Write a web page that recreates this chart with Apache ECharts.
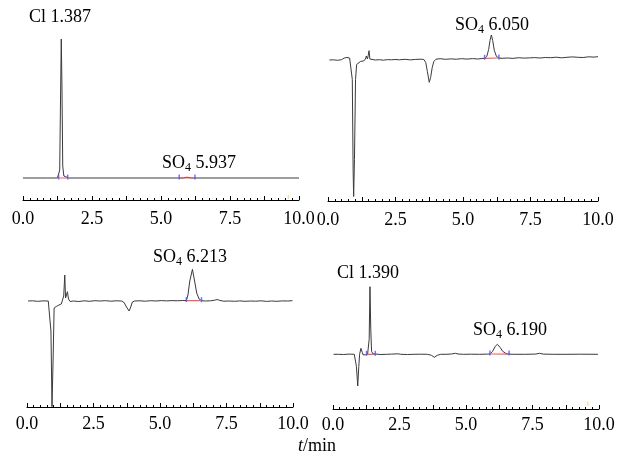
<!DOCTYPE html>
<html>
<head>
<meta charset="utf-8">
<script src="https://cdn.jsdelivr.net/npm/echarts@6/dist/echarts.min.js"></script>
<style>
html,body{margin:0;padding:0;background:#fff;}
#chart{width:623px;height:459px;}
</style>
</head>
<body>
<div id="chart"></div>
<script>
// ---- Data (time in min, signal in arbitrary units above baseline) ----
const xTickLabels = ['0.0', '2.5', '5.0', '7.5', '10.0'];

// Panel 1 (top-left)
const p1Time   = [0.00, 0.90, 1.25, 1.30, 1.33, 1.36, 1.387, 1.41, 1.44, 1.48, 1.55, 1.65, 5.80, 5.94, 6.10, 10.00];
const p1Signal = [0,    0,    0,    0.3,  8,    80,   139,   95,   12,   2,    0.5,  0,    0,    0.8,  0,    0];
const p1Bounds = [[1.29, 0, 1.62, 0], [5.66, 0, 6.23, 0]];

// Panel 2 (top-right)
const p2Time   = [0.05, 0.20, 0.35, 0.50, 0.60, 0.70, 0.80, 0.86, 0.90, 0.93, 0.95, 0.98, 1.02, 1.06, 1.12, 1.20, 1.30, 1.38, 1.42, 1.46, 1.49, 1.52, 1.55, 1.60, 1.75, 1.90, 2.05, 2.20, 2.35, 2.42, 2.48, 2.65, 2.85, 3.05, 3.25, 3.45, 3.55, 3.62, 3.68, 3.75, 3.80, 3.86, 3.92, 4.00, 4.15, 4.35, 4.55, 4.75, 4.95, 5.15, 5.35, 5.55, 5.70, 5.80, 5.88, 5.95, 6.00, 6.05, 6.10, 6.16, 6.24, 6.33, 6.45, 6.65, 6.85, 7.05, 7.25, 7.45, 7.65, 7.85, 8.05, 8.25, 8.45, 8.65, 8.85, 9.05, 9.25, 9.45, 9.65, 9.85, 10.00];
const p2Signal = [-0.5, -0.3, -0.8, -0.2, 1.5,  2.0,  1.5,  0,    -20,  -110, -137, -100, -20,  -5,   -3,   -2,   -1.5, 0,    3.5,  0.5,  4,    8.8,  0.5,  0,    -0.5, -0.2, -0.7, -0.1, -0.3, 1.5,  0,    -0.3, 0.2,  -0.4, 0.1,  0.3,  0,    -3,   -12,  -22.8, -18, -8,   -2,   0.3,  0.8,  0.2,  0.6,  0.3,  0.8,  0.4,  0.9,  0.5,  1.0,  1.2,  3,    10,   19,   24.5, 19,   9,    3,    1.5,  1.2,  1.5,  1.1,  1.8,  1.4,  1.6,  1.9,  1.5,  2.0,  1.8,  2.3,  1.7,  2.2,  2.6,  2.2,  2.0,  2.7,  2.4,  2.8];
const p2Bounds = [[5.80, 1.2, 6.33, 1.5]];

// Panel 3 (bottom-left)
const p3Time   = [0.04, 0.20, 0.40, 0.60, 0.80, 0.85, 0.90, 0.94, 0.98, 1.02, 1.10, 1.20, 1.29, 1.34, 1.38, 1.42, 1.45, 1.49, 1.52, 1.56, 1.62, 1.75, 1.95, 2.15, 2.35, 2.55, 2.75, 2.95, 3.15, 3.35, 3.55, 3.65, 3.74, 3.84, 3.90, 3.96, 4.05, 4.25, 4.45, 4.65, 4.85, 5.05, 5.25, 5.45, 5.65, 5.85, 5.99, 6.05, 6.12, 6.22, 6.30, 6.38, 6.47, 6.56, 6.70, 6.90, 7.05, 7.15, 7.25, 7.40, 7.60, 7.80, 8.00, 8.20, 8.40, 8.60, 8.80, 9.00, 9.20, 9.40, 9.60, 9.80, 9.98];
const p3Signal = [0,    0.2,  -0.3, 0.1,  0,    -1,   -30,  -105.7, -60, -7,   -5.5, -4,   -3,   -1,   5,    26,   3,    5,    9.3,  2,    -0.5, 0,    -0.5, 0.2,  -0.3, 0.3,  0,    0.3,  -0.2, 0.2,  0,    -1.5, -6,   -10,  -6,   -1,   0,    0.2,  -0.2, 0.3,  0,    0.4,  0.1,  0.4,  0.2,  0.5,  0.4,  6,    20,   31.7, 20,   8,    2,    0.3,  0,    0.2,  0.8,  1.5,  0.6,  -0.2, 0,    -0.3, 0.1,  -0.3, 0,    -0.2, 0.2,  -0.4, 0,    -0.3, 0.1,  0,    0.3];
const p3Bounds = [[5.99, 0.4, 6.56, 0.3]];

// Panel 4 (bottom-right)
const p4Time   = [0.02, 0.20, 0.40, 0.60, 0.80, 0.84, 0.88, 0.93, 0.97, 1.00, 1.05, 1.10, 1.13, 1.17, 1.22, 1.30, 1.34, 1.36, 1.39, 1.42, 1.45, 1.50, 1.56, 1.80, 2.00, 2.20, 2.45, 2.55, 2.80, 3.05, 3.30, 3.55, 3.70, 3.81, 3.92, 4.05, 4.25, 4.45, 4.60, 4.70, 4.90, 5.20, 5.50, 5.80, 5.90, 6.00, 6.10, 6.18, 6.28, 6.38, 6.50, 6.62, 6.80, 7.20, 7.60, 7.77, 7.90, 8.30, 8.80, 9.30, 9.96];
const p4Signal = [0,    0,    -0.2, 0.2,  0,    -1,   -12,  -31.7, -12, 0,    6,    2,    -0.5, 1,    -0.5, 0,    1,    15,   67.6, 25,   3,    0.5,  0,    -0.2, 0,    0.2,  0.5,  0,    -0.2, 0,    0.1,  0,    -1,   -3,   -1,   0,    0,    0.3,  1,    0.3,  0,    0.1,  0,    0.2,  0.3,  3,    8,    10,   7,    3,    0.8,  0.2,  0,    0,    0.2,  1,    0.2,  0,    0,    0.1,  0];
const p4Bounds = [[1.26, 0, 1.59, 0], [5.90, 0.3, 6.62, 0.2]];

// Small orange markers near the axis (panel index, time, signal)
const orangeMarks = [[0, 9.61, -18.7], [3, 9.58, -49.2]];

// Peak labels: [panel, ion, subscript, retention time]
const peakLabels = [
  [0, 'Cl', '', '1.387'],
  [0, 'SO', '4', '5.937'],
  [1, 'SO', '4', '6.050'],
  [2, 'SO', '4', '6.213'],
  [3, 'Cl', '', '1.390'],
  [3, 'SO', '4', '6.190']
];
const axisName = ['t', '/min'];

// ---- Layout / styles ----
const grids = [
  {left: 23,  width: 276, top: 30,  height: 170},
  {left: 328, width: 270, top: 30,  height: 171},
  {left: 27,  width: 266, top: 250, height: 157},
  {left: 333, width: 266, top: 250, height: 159}
];
const yRanges = [[-22, 148], [-141.5, 29.5], [-106, 51], [-54.7, 104.3]];
const labelMargins = [10, 10, 8, 7];
const labelPos = [[29, 7], [162, 153], [455, 15], [153, 247], [337, 263], [473, 320]];

const SERIF = "'Liberation Serif', 'Times New Roman', serif";
const traces = [[p1Time, p1Signal], [p2Time, p2Signal], [p3Time, p3Signal], [p4Time, p4Signal]];
const bounds = [p1Bounds, p2Bounds, p3Bounds, p4Bounds];

const xAxes = grids.map((g, i) => ({
  gridIndex: i, type: 'value', min: 0, max: 10, interval: 1.25,
  axisLine: {show: true, onZero: false, lineStyle: {color: '#000', width: 1}},
  axisTick: {show: true, inside: true, length: 4, lineStyle: {color: '#000', width: 1}},
  minorTick: {show: true, splitNumber: 5, length: 2, lineStyle: {color: '#000', width: 1}},
  splitLine: {show: false},
  minorSplitLine: {show: false},
  axisLabel: {
    show: true, margin: labelMargins[i], hideOverlap: false,
    fontFamily: SERIF, fontSize: 18, fontWeight: 'normal', color: '#000',
    formatter: v => {
      const k = v / 2.5;
      const idx = Math.round(k);
      return Math.abs(k - idx) < 1e-6 ? xTickLabels[idx] : '';
    }
  }
}));
const yAxes = grids.map((g, i) => ({
  gridIndex: i, type: 'value', min: yRanges[i][0], max: yRanges[i][1], show: false
}));

const series = [];
traces.forEach(([t, s], i) => {
  series.push({
    type: 'line', xAxisIndex: i, yAxisIndex: i, showSymbol: false, symbol: 'none',
    data: t.map((x, k) => [x, s[k]]),
    lineStyle: {color: '#3a3a3a', width: 1}, clip: false, animation: false, silent: true
  });
});
bounds.forEach((bl, i) => {
  bl.forEach(b => {
    series.push({
      type: 'line', xAxisIndex: i, yAxisIndex: i, showSymbol: false, symbol: 'none',
      data: [[b[0], b[1]], [b[2], b[3]]],
      lineStyle: {color: '#ff5a5a', width: 1.2}, animation: false, silent: true, z: 3
    });
    series.push({
      type: 'scatter', xAxisIndex: i, yAxisIndex: i,
      data: [[b[0], b[1]], [b[2], b[3]]],
      symbol: 'rect', symbolSize: [1.5, 5], symbolOffset: [0, -1],
      itemStyle: {color: '#3a5cff'}, animation: false, silent: true, z: 4
    });
  });
});
orangeMarks.forEach(m => {
  series.push({
    type: 'scatter', xAxisIndex: m[0], yAxisIndex: m[0], data: [[m[1], m[2]]],
    symbol: 'rect', symbolSize: [1, 4], itemStyle: {color: '#ffc050'},
    animation: false, silent: true
  });
});

const rich = {
  n: {fontFamily: SERIF, fontSize: 18, fontWeight: 'normal', color: '#000', lineHeight: 20},
  s: {fontFamily: SERIF, fontSize: 12, fontWeight: 'normal', color: '#000', padding: [10, 0, 0, 0], lineHeight: 20},
  i: {fontFamily: SERIF, fontSize: 18, fontWeight: 'normal', color: '#000', fontStyle: 'italic', lineHeight: 20}
};
const titles = peakLabels.map((p, k) => ({
  text: p[2] ? `{n|${p[1]}}{s|${p[2]}}{n| ${p[3]}}` : `{n|${p[1]} ${p[3]}}`,
  left: labelPos[k][0], top: labelPos[k][1], padding: 0,
  textStyle: {fontWeight: 'normal', fontFamily: SERIF, rich: rich}
}));
titles.push({
  text: `{i|${axisName[0]}}{n|${axisName[1]}}`,
  left: 298, top: 436, padding: 0, textStyle: {fontWeight: 'normal', fontFamily: SERIF, rich: rich}
});

const chart = echarts.init(document.getElementById('chart'), null, {renderer: 'canvas'});
chart.setOption({
  animation: false,
  backgroundColor: '#fff',
  title: titles,
  grid: grids.map(g => Object.assign({containLabel: false}, g)),
  xAxis: xAxes,
  yAxis: yAxes,
  series: series
});
</script>
</body>
</html>
